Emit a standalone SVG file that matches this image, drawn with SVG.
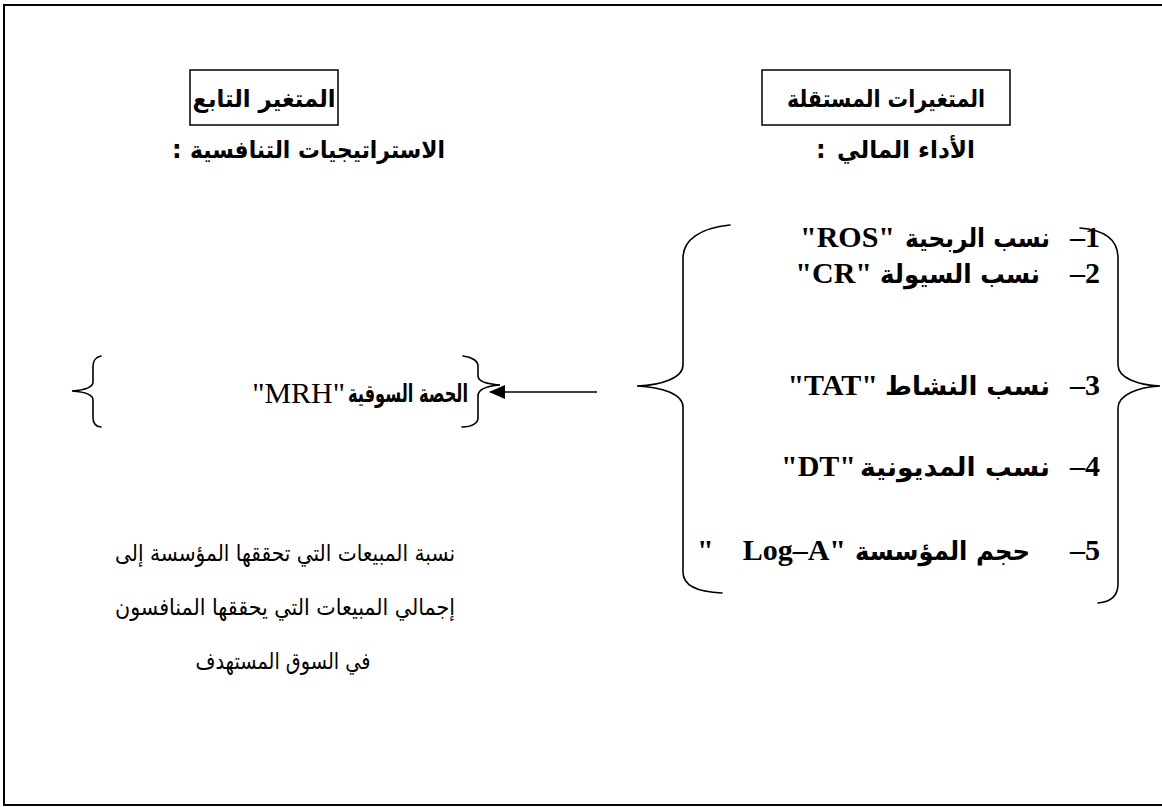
<svg xmlns="http://www.w3.org/2000/svg" width="1162" height="807" viewBox="0 0 1162 807">
  <style>
    .frame { fill: none; stroke: #000; stroke-width: 2; }
    .box { fill: none; stroke: #000; stroke-width: 1.5; }
    .brace { fill: none; stroke: #000; stroke-width: 1.6; stroke-linecap: round; }
    .ar { font-family: 'DejaVu Sans', 'Noto Sans', sans-serif; fill: #000; }
    .b { font-weight: bold; }
    .lat { font-family: 'Liberation Serif', 'DejaVu Serif', serif; fill: #000; }
    .conn { stroke: #000; stroke-width: 1.6; fill: none; }
  </style>
  <defs>
    <marker id="arrowhead" markerWidth="16" markerHeight="14" refX="15" refY="7" orient="auto" markerUnits="userSpaceOnUse">
      <path d="M0,0 L16,7 L0,14 Z" fill="#000"/>
    </marker>
  </defs>

  <rect width="1162" height="807" fill="#fff"/>

  <!-- outer frame, open on the right -->
  <path class="frame" d="M1164,5 L4,5 L4,805 L1164,805"/>

  <!-- dependent variable header -->
  <g id="dependent-header">
    <rect class="box" x="190" y="70" width="148" height="55"/>
    <text class="ar b" x="264" y="107" font-size="24" text-anchor="middle" direction="rtl" textLength="143" lengthAdjust="spacingAndGlyphs">المتغير التابع</text>
  </g>

  <!-- independent variables header -->
  <g id="independent-header">
    <rect class="box" x="762" y="70" width="248" height="55"/>
    <text class="ar b" x="886" y="107" font-size="24" text-anchor="middle" direction="rtl" textLength="198" lengthAdjust="spacingAndGlyphs">المتغيرات المستقلة</text>
  </g>

  <g id="strategies-title">
    <text class="ar b" x="445" y="158" font-size="24" text-anchor="end" textLength="255" lengthAdjust="spacingAndGlyphs">الاستراتيجيات التنافسية</text>
    <text class="ar b" x="172" y="158" font-size="24">:</text>
  </g>

  <g id="performance-title">
    <text class="ar b" x="975" y="158" font-size="24" text-anchor="end" textLength="138" lengthAdjust="spacingAndGlyphs">الأداء المالي</text>
    <text class="ar b" x="816" y="158" font-size="24">:</text>
  </g>

  <!-- list of independent variables -->
  <g id="item-1">
    <text class="lat b" x="1100" y="247" font-size="30" text-anchor="end">–1</text>
    <text class="ar b" x="1050" y="247" font-size="26" text-anchor="end" textLength="145" lengthAdjust="spacingAndGlyphs">نسب الربحية</text>
    <text class="lat b" x="895" y="247" font-size="30" text-anchor="end">"ROS"</text>
  </g>
  <g id="item-2">
    <text class="lat b" x="1100" y="283" font-size="30" text-anchor="end">–2</text>
    <text class="ar b" x="1040" y="283" font-size="26" text-anchor="end" textLength="160" lengthAdjust="spacingAndGlyphs">نسب السيولة</text>
    <text class="lat b" x="872" y="283" font-size="30" text-anchor="end">"CR"</text>
  </g>
  <g id="item-3">
    <text class="lat b" x="1100" y="395" font-size="30" text-anchor="end">–3</text>
    <text class="ar b" x="1050" y="395" font-size="26" text-anchor="end" textLength="165" lengthAdjust="spacingAndGlyphs">نسب النشاط</text>
    <text class="lat b" x="878" y="395" font-size="30" text-anchor="end">"TAT"</text>
  </g>
  <g id="item-4">
    <text class="lat b" x="1100" y="476" font-size="30" text-anchor="end">–4</text>
    <text class="ar b" x="1050" y="476" font-size="26" text-anchor="end" textLength="190" lengthAdjust="spacingAndGlyphs">نسب المديونية</text>
    <text class="lat b" x="856" y="476" font-size="30" text-anchor="end">"DT"</text>
  </g>
  <g id="item-5">
    <text class="lat b" x="1100" y="560" font-size="30" text-anchor="end">–5</text>
    <text class="ar b" x="1030" y="560" font-size="26" text-anchor="end" textLength="175" lengthAdjust="spacingAndGlyphs">حجم المؤسسة</text>
    <text class="lat b" x="846" y="560" font-size="30" text-anchor="end">Log–A"</text>
    <text class="lat b" x="697" y="560" font-size="30">"</text>
  </g>

  <!-- braces grouping the list -->
  <g id="list-braces">
    <path class="brace" d="M730,225 C700,228 683,240 683,258 L683,365 C683,378 662,385 637,386 C662,387 683,394 683,407 L683,572 C683,585 697,592 722,593"/>
    <path class="brace" d="M1080,228 C1105,230 1118,240 1118,258 L1118,365 C1118,378 1138,385 1160,386 C1138,387 1118,395 1118,408 L1118,584 C1118,596 1110,602 1098,603"/>
  </g>

  <!-- dependent variable -->
  <g id="market-share">
    <path class="brace" d="M101,356 C96,357 93,361 93,366 L93,382 C93,387 86,390 72,391 C86,392 93,395 93,400 L93,418 C93,423 96,427 101,427"/>
    <text class="lat" x="345" y="403" font-size="30" text-anchor="end">"MRH"</text>
    <text class="ar b" x="468" y="402" font-size="25" text-anchor="end" textLength="120" lengthAdjust="spacingAndGlyphs">الحصة السوقية</text>
    <path class="brace" d="M463,356 C472,357 478,361 478,366 L478,376 C478,381 486,384 500,385 C486,386 478,390 478,396 L478,418 C478,423 472,427 462,427"/>
  </g>

  <g id="definition">
    <text class="ar" x="285" y="561" font-size="23" text-anchor="middle" direction="rtl" textLength="340" lengthAdjust="spacingAndGlyphs">نسبة المبيعات التي تحققها المؤسسة إلى</text>
    <text class="ar" x="285" y="615" font-size="23" text-anchor="middle" direction="rtl" textLength="340" lengthAdjust="spacingAndGlyphs">إجمالي المبيعات التي يحققها المنافسون</text>
    <text class="ar" x="283" y="669" font-size="23" text-anchor="middle" direction="rtl" textLength="175" lengthAdjust="spacingAndGlyphs">في السوق المستهدف</text>
  </g>

  <!-- connector -->
  <g id="connectors">
    <line class="conn" x1="597" y1="392" x2="490" y2="392" marker-end="url(#arrowhead)"/>
  </g>
</svg>
